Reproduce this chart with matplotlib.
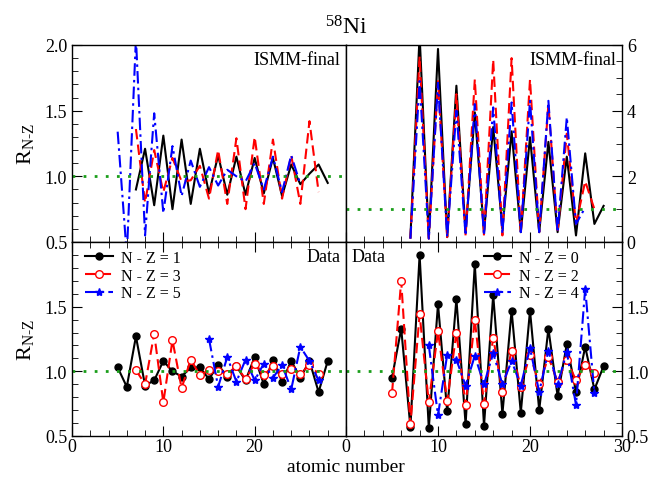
import matplotlib
matplotlib.use("Agg")
import matplotlib.pyplot as plt
from matplotlib.ticker import MultipleLocator

plt.rcParams["font.family"] = ["Liberation Serif", "DejaVu Serif"]
plt.rcParams["mathtext.fontset"] = "custom"
plt.rcParams["mathtext.rm"] = "Liberation Serif"
plt.rcParams["mathtext.it"] = "Liberation Serif:italic"

# ISMM-final, odd N-Z (left, 0.5..2.0)
z_t1 = [7, 8, 9, 10, 11, 12, 13, 14, 15, 16, 17, 18, 19, 20, 21, 22, 23, 24, 25, 26, 27, 28]
r_t1 = [0.90, 1.21, 0.78, 1.31, 0.75, 1.28, 0.79, 1.21, 0.87, 1.16, 0.86, 1.15, 0.86, 1.14,
        0.87, 1.14, 0.85, 1.09, 0.94, 1.02, 1.09, 0.95]
z_t3 = [7, 8, 9, 10, 11, 12, 13, 14, 15, 16, 17, 18, 19, 20, 21, 22, 23, 24, 25, 26, 27]
r_t3 = [1.36, 0.80, 1.20, 0.88, 1.14, 0.96, 0.97, 1.08, 0.83, 1.20, 0.79, 1.29, 0.75, 1.30,
        0.79, 1.28, 0.83, 1.16, 0.79, 1.42, 0.88]
z_t5 = [5, 6, 7, 8, 9, 10, 11, 12, 13, 14, 15, 16, 17, 18, 19, 20, 21, 22, 23, 24, 25]
r_t5 = [1.34, 0.40, 2.05, 0.55, 1.48, 0.72, 1.23, 0.85, 1.12, 0.92, 1.07, 0.93, 1.05, 1.00,
        0.96, 1.10, 0.90, 1.15, 0.88, 1.16, 0.94]

# ISMM-final, even N-Z (right, 0..6)
z_t0 = [7, 8, 9, 10, 11, 12, 13, 14, 15, 16, 17, 18, 19, 20, 21, 22, 23, 24, 25, 26, 27, 28]
r_t0 = [0.14, 6.30, 0.14, 5.88, 0.15, 4.76, 0.30, 3.95, 0.30, 3.50, 0.40, 3.37, 0.30, 3.19,
        0.30, 3.05, 0.30, 2.60, 0.20, 2.70, 0.55, 1.10]
z_t2 = [7, 8, 9, 10, 11, 12, 13, 14, 15, 16, 17, 18, 19, 20, 21, 22, 23, 24, 25, 26, 27]
r_t2 = [0.10, 5.65, 0.10, 4.90, 0.15, 4.50, 0.20, 4.95, 0.20, 5.55, 0.20, 5.60, 0.25, 4.95,
        0.30, 4.20, 0.30, 3.30, 0.55, 1.85, 1.00]
z_t4 = [7, 8, 9, 10, 11, 12, 13, 14, 15, 16, 17, 18, 19, 20, 21, 22, 23, 24, 25, 26]
r_t4 = [0.10, 4.90, 0.10, 4.85, 0.15, 4.00, 0.20, 4.20, 0.20, 4.10, 0.25, 4.25, 0.30, 4.30,
        0.30, 4.30, 0.30, 3.80, 0.55, 1.05]

# Data, odd N-Z
z_d1 = [5, 6, 7, 8, 9, 10, 11, 12, 13, 14, 15, 16, 17, 18, 19, 20, 21, 22, 23, 24, 25, 26, 27, 28]
r_d1 = [1.03, 0.88, 1.27, 0.89, 0.93, 1.08, 1.00, 0.96, 1.03, 1.03, 0.94, 1.05, 0.96, 1.04,
        0.93, 1.11, 0.90, 1.09, 0.92, 1.08, 0.95, 1.08, 0.84, 1.08]
z_d3 = [7, 8, 9, 10, 11, 12, 13, 14, 15, 16, 17, 18, 19, 20, 21, 22, 23, 24, 25, 26, 27]
r_d3 = [1.01, 0.90, 1.29, 0.76, 1.24, 0.87, 1.09, 0.97, 1.01, 1.00, 0.98, 1.04, 0.94, 1.06,
        0.97, 1.04, 0.98, 1.02, 0.98, 1.05, 0.98]
z_d5 = [15, 16, 17, 18, 19, 20, 21, 22, 23, 24, 25, 26, 27]
r_d5 = [1.25, 0.88, 1.11, 0.92, 1.09, 0.93, 1.06, 0.95, 1.05, 0.86, 1.19, 1.08, 0.93]

# Data, even N-Z
z_d0 = [5, 6, 7, 8, 9, 10, 11, 12, 13, 14, 15, 16, 17, 18, 19, 20, 21, 22, 23, 24, 25, 26, 27, 28]
r_d0 = [0.95, 1.33, 0.57, 1.90, 0.56, 1.52, 0.69, 1.56, 0.59, 1.83, 0.58, 1.59, 0.67, 1.47,
        0.68, 1.47, 0.70, 1.33, 0.81, 1.21, 0.84, 1.19, 0.86, 1.04]
z_d2 = [5, 6, 7, 8, 9, 10, 11, 12, 13, 14, 15, 16, 17, 18, 19, 20, 21, 22, 23, 24, 25, 26, 27]
r_d2 = [0.83, 1.70, 0.59, 1.44, 0.76, 1.31, 0.77, 1.30, 0.74, 1.40, 0.75, 1.26, 0.84, 1.16,
        0.88, 1.13, 0.90, 1.11, 0.92, 1.09, 0.93, 1.05, 0.99]
z_d4 = [9, 10, 11, 12, 13, 14, 15, 16, 17, 18, 19, 20, 21, 22, 23, 24, 25, 26, 27]
r_d4 = [1.20, 0.66, 1.13, 1.09, 0.89, 1.12, 0.90, 1.14, 0.90, 1.08, 0.89, 1.18, 0.84, 1.16,
        0.90, 1.15, 0.74, 1.64, 0.83]

RED_LS = (0, (5, 2.5))
BLUE_LS = (0, (6, 2, 1.2, 2))
GREEN = "#1a9e1a"
FS = 13
LEG = dict(frameon=False, fontsize=11.5, handlelength=1.7, borderaxespad=0.1,
           labelspacing=0.1, handletextpad=0.5)

fig = plt.figure(figsize=(6.52, 4.81), dpi=100)
W, H = 652.0, 481.0
ax_tl = fig.add_axes([72 / W, 1 - 243 / H, 274 / W, 197 / H])
ax_tr = fig.add_axes([346 / W, 1 - 243 / H, 276 / W, 197 / H])
ax_bl = fig.add_axes([72 / W, 1 - 437 / H, 274 / W, 194 / H])
ax_br = fig.add_axes([346 / W, 1 - 437 / H, 276 / W, 194 / H])

for ax in (ax_tl, ax_tr, ax_bl, ax_br):
    ax.set_xlim(0, 30)
    ax.xaxis.set_major_locator(MultipleLocator(10))
    ax.xaxis.set_minor_locator(MultipleLocator(2))
    ax.tick_params(which="both", direction="in", labelsize=FS)
    ax.tick_params(which="major", length=7)
    ax.tick_params(which="minor", length=4)
    ax.tick_params(axis="x", pad=1.5)
    for sp in ax.spines.values():
        sp.set_linewidth(1.0)

# top-left
ax_tl.plot(z_t1, r_t1, color="black", lw=1.5)
ax_tl.plot(z_t3, r_t3, color="red", lw=1.5, ls=RED_LS)
ax_tl.plot(z_t5, r_t5, color="blue", lw=1.5, ls=BLUE_LS)
ax_tl.axhline(1.0, color=GREEN, lw=2, ls=(0, (1, 3)))
ax_tl.set_ylim(0.5, 2.0)
ax_tl.yaxis.set_minor_locator(MultipleLocator(0.1))
ax_tl.set_yticks([0.5, 1.0, 1.5, 2.0])
ax_tl.set_yticklabels(["0.5", "1.0", "1.5", "2.0"])
ax_tl.tick_params(which="both", bottom=True, top=False, left=True, right=False,
                  labelbottom=False)
ax_tl.text(0.98, 0.97, "ISMM-final", transform=ax_tl.transAxes, ha="right", va="top", fontsize=FS)
ax_tl.set_ylabel(r"R$_{\mathregular{N\text{-}Z}}$", fontsize=16, labelpad=6)

# top-right
ax_tr.plot(z_t0, r_t0, color="black", lw=1.5)
ax_tr.plot(z_t2, r_t2, color="red", lw=1.5, ls=RED_LS)
ax_tr.plot(z_t4, r_t4, color="blue", lw=1.5, ls=BLUE_LS)
ax_tr.axhline(1.0, color=GREEN, lw=2, ls=(0, (1, 3)))
ax_tr.set_ylim(0, 6)
ax_tr.yaxis.set_major_locator(MultipleLocator(2))
ax_tr.yaxis.set_minor_locator(MultipleLocator(0.5))
ax_tr.tick_params(which="both", bottom=True, top=False, left=False, right=True,
                  labelbottom=False, labelleft=False, labelright=True)
ax_tr.text(0.98, 0.97, "ISMM-final", transform=ax_tr.transAxes, ha="right", va="top", fontsize=FS)

# bottom-left
ax_bl.plot(z_d1, r_d1, color="black", lw=1.5, marker="o", ms=5, label="N - Z = 1")
ax_bl.plot(z_d3, r_d3, color="red", lw=1.5, ls=RED_LS, marker="o", ms=5.5,
           mfc="white", mec="red", label="N - Z = 3")
ax_bl.plot(z_d5, r_d5, color="blue", lw=1.5, ls=BLUE_LS, marker="*", ms=6, label="N - Z = 5")
ax_bl.axhline(1.0, color=GREEN, lw=2, ls=(0, (1, 3)))
ax_bl.set_ylim(0.5, 2.0)
ax_bl.set_yticks([0.5, 1.0, 1.5])
ax_bl.yaxis.set_minor_locator(MultipleLocator(0.1))
ax_bl.set_xticks([0, 10, 20])
ax_bl.tick_params(which="both", bottom=True, top=True, left=True, right=False)
ax_bl.text(0.98, 0.97, "Data", transform=ax_bl.transAxes, ha="right", va="top", fontsize=FS)
ax_bl.set_ylabel(r"R$_{\mathregular{N\text{-}Z}}$", fontsize=16, labelpad=6)
ax_bl.legend(loc="upper left", bbox_to_anchor=(0.02, 1.0), **LEG)

# bottom-right
ax_br.plot(z_d0, r_d0, color="black", lw=1.5, marker="o", ms=5, label="N - Z = 0")
ax_br.plot(z_d2, r_d2, color="red", lw=1.5, ls=RED_LS, marker="o", ms=5.5,
           mfc="white", mec="red", label="N - Z = 2")
ax_br.plot(z_d4, r_d4, color="blue", lw=1.5, ls=BLUE_LS, marker="*", ms=6, label="N - Z = 4")
ax_br.axhline(1.0, color=GREEN, lw=2, ls=(0, (1, 3)))
ax_br.set_ylim(0.5, 2.0)
ax_br.set_yticks([0.5, 1.0, 1.5])
ax_br.yaxis.set_minor_locator(MultipleLocator(0.1))
ax_br.set_xticks([0, 10, 20, 30])
ax_br.tick_params(which="both", bottom=True, top=True, left=False, right=True,
                  labelleft=False, labelright=True)
ax_br.text(0.02, 0.97, "Data", transform=ax_br.transAxes, ha="left", va="top", fontsize=FS)
ax_br.legend(loc="upper left", bbox_to_anchor=(0.47, 1.0), **LEG)

fig.text(346 / W, 1 - 28 / H, r"$^{58}$Ni", ha="center", va="center", fontsize=17)
fig.text(346 / W, 1 - 468 / H, "atomic number", ha="center", va="center", fontsize=FS + 1)

fig.savefig("out.png", dpi=100)
